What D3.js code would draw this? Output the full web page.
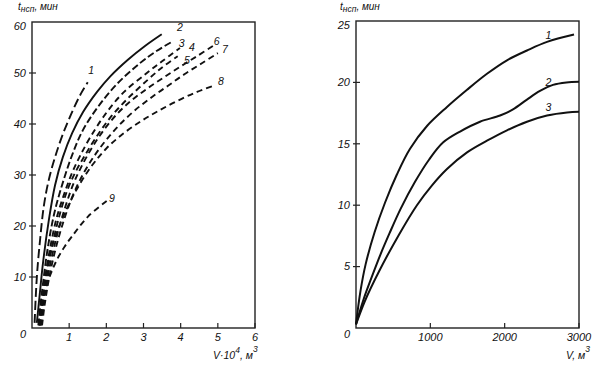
<!DOCTYPE html>
<html><head><meta charset="utf-8">
<script src="https://cdn.jsdelivr.net/npm/d3@7"></script>
<style>
html,body{margin:0;padding:0;background:#fff;}
text{font-family:"Liberation Sans",Arial,sans-serif;font-style:italic;fill:#111;}
</style></head>
<body><svg id="c" width="607" height="366"></svg>
<script>
// ---- Left panel data: V·10^4 m^3 vs t (min) ----
const leftXTicks = [1,2,3,4,5,6];
const leftYTicks = [0,10,20,30,40,50,60];
const curveL1 = [[0.07,1],[0.1,6],[0.14,11],[0.22,17.5],[0.32,24],[0.45,29],[0.62,33.5],[0.83,38],[1.10,42.7],[1.32,46],[1.50,48.2]];
const curveL2 = [[0.13,1],[0.2,6],[0.3,13],[0.45,21],[0.62,28],[0.83,33.5],[1.08,38.2],[1.37,42.3],[1.75,46.3],[2.10,49.3],[2.58,52.6],[3.04,55.3],[3.49,57.6]];
const curveL3 = [[0.17,0.5],[0.22,4],[0.3,9],[0.42,15.5],[0.6,22.5],[0.85,29],[1.10,34.3],[1.37,38.8],[1.77,43.3],[2.28,47.8],[2.90,51.9],[3.35,54.3],[3.76,56.1]];
const curveL4 = [[0.19,0.5],[0.25,4],[0.34,9],[0.47,15],[0.66,21.5],[0.9,27],[1.1,30.8],[1.29,33.7],[1.56,37.3],[1.96,41.8],[2.45,46.1],[3.09,50.0],[3.5,52.3],[3.98,54.9]];
const curveL5 = [[0.21,0.5],[0.27,4],[0.37,9],[0.5,14.5],[0.7,21],[0.95,27],[1.2,31],[1.42,33.8],[1.69,37],[2.10,41.2],[2.55,44.8],[3.09,48.5],[3.5,51.1],[3.92,53.3]];
const curveL6 = [[0.24,0.5],[0.3,4],[0.4,9],[0.55,14.5],[0.78,21],[1.1,28],[1.34,31.8],[1.61,35.3],[1.91,38.6],[2.28,41.9],[2.69,44.7],[3.09,46.9],[3.52,49.0],[3.98,51.2],[4.44,53.3],[4.87,55.3]];
const curveL7 = [[0.27,0.5],[0.33,4],[0.44,9],[0.6,14.5],[0.83,20.5],[1.1,26],[1.4,30.5],[1.7,34],[2.0,36.9],[2.35,39.8],[2.77,42.7],[3.23,45.3],[3.66,47.5],[4.11,49.8],[4.57,51.9],[5.0,53.9]];
const curveL8 = [[0.23,0.5],[0.27,4],[0.33,8.5],[0.42,12.5],[0.53,15.8],[0.68,19],[0.88,22.5],[1.1,25.8],[1.35,29],[1.65,32.2],[2.0,35.2],[2.4,37.8],[2.9,40.4],[3.36,42.4],[3.9,44.5],[4.44,46.3],[4.92,47.6]];
const curveL9 = [[0.21,0.5],[0.24,3.5],[0.30,5.8],[0.37,7.8],[0.46,9.8],[0.57,11.8],[0.7,13.8],[0.88,16],[1.08,18],[1.5,21.8],[2.04,25.1]];
const leftSeries = [curveL1,curveL2,curveL3,curveL4,curveL5,curveL6,curveL7,curveL8,curveL9];
const leftNames = ["1","2","3","4","5","6","7","8","9"];
const leftDash = ["9,4",null,"7,3","6,4","6,4","6,4","6,4","6,4","6,4"];
const leftLabelPos = [[1.59,50.5],[3.98,58.9],[4.03,55.8],[4.3,55.0],[4.17,52.5],[4.97,56.3],[5.19,54.7],[5.08,48.3],[2.15,25.5]];

// ---- Right panel data: V (m^3) vs t (min) ----
const rightXTicks = [1000,2000,3000];
const rightYTicks = [0,5,10,15,20,25];
const curveR1 = [[0,0.3],[60,3],[130,5.2],[250,7.8],[390,10.2],[550,12.5],[727,14.6],[955,16.45],[1224,18.0],[1494,19.4],[1762,20.7],[2031,21.8],[2300,22.6],[2570,23.3],[2933,23.9]];
const curveR2 = [[0,0.3],[100,2.3],[215,4.2],[330,6],[450,7.7],[600,9.7],[794,11.9],[982,13.7],[1170,15.1],[1400,16.0],[1668,16.8],[1938,17.3],[2112,17.8],[2300,18.6],[2475,19.3],[2650,19.8],[2830,20.0],[3000,20.05]];
const curveR3 = [[0,0.3],[120,2.2],[309,4.6],[578,7.6],[820,10.0],[1020,11.6],[1224,12.95],[1494,14.3],[1762,15.25],[2031,16.1],[2300,16.8],[2570,17.3],[2840,17.55],[3000,17.6]];
const rightSeries = [curveR1,curveR2,curveR3];
const rightNames = ["1","2","3"];
const rightLabelPos = [[2590,23.85],[2590,20.0],[2590,18.0]];

const svg = d3.select("#c");

function panel(opt){
  const x = d3.scaleLinear().domain(opt.xd).range(opt.xr);
  const y = d3.scaleLinear().domain(opt.yd).range(opt.yr);
  const g = svg.append("g");
  g.append("rect").attr("x",opt.xr[0]).attr("y",opt.yr[1])
    .attr("width",opt.xr[1]-opt.xr[0]).attr("height",opt.yr[0]-opt.yr[1])
    .attr("fill","none").attr("stroke","#222").attr("stroke-width",1.4);
  opt.yTicks.forEach(v=>{
    if(v>0 && v<opt.yd[1]) g.append("line").attr("x1",opt.xr[0]-3).attr("x2",opt.xr[0]+4)
      .attr("y1",y(v)).attr("y2",y(v)).attr("stroke","#222").attr("stroke-width",1.2);
    const off = v===opt.yd[1]?4:(v===0?6:0);
    g.append("text").attr("x",opt.xr[0]-6).attr("y",y(v)+off).attr("dy","0.35em")
      .attr("text-anchor","end").attr("font-size",11).text(v);
  });
  opt.xTicks.forEach(v=>{
    g.append("line").attr("x1",x(v)).attr("x2",x(v)).attr("y1",opt.yr[0]).attr("y2",opt.yr[0]-5)
      .attr("stroke","#222").attr("stroke-width",1.2);
    g.append("text").attr("x",x(v)).attr("y",opt.yr[0]+13).attr("text-anchor","middle")
      .attr("font-size",11).text(v);
  });
  const line = d3.line().x(d=>x(d[0])).y(d=>y(d[1])).curve(d3.curveCatmullRom.alpha(0.5));
  opt.series.forEach((s,i)=>{
    g.append("path").attr("d",line(s)).attr("fill","none").attr("stroke","#111")
      .attr("stroke-width",opt.sw).attr("stroke-dasharray",opt.dash?opt.dash[i]:null);
    g.append("text").attr("x",x(opt.labelPos[i][0])).attr("y",y(opt.labelPos[i][1]))
      .attr("dy","0.35em").attr("text-anchor","middle").attr("font-size",10.5).text(opt.names[i]);
  });
}

panel({xd:[0,6],xr:[32,255],yd:[0,60],yr:[328,22],xTicks:leftXTicks,yTicks:leftYTicks,
  series:leftSeries,names:leftNames,dash:leftDash,labelPos:leftLabelPos,sw:1.9});
panel({xd:[0,3000],xr:[356,579],yd:[0,25],yr:[328,21],xTicks:rightXTicks,yTicks:rightYTicks,
  series:rightSeries,names:rightNames,dash:null,labelPos:rightLabelPos,sw:2});

function yTitle(x0){
  const t = svg.append("text").attr("x",x0).attr("y",10).attr("font-size",10);
  t.append("tspan").text("t");
  t.append("tspan").attr("dy",2).attr("font-size",8.5).text("нсп");
  t.append("tspan").attr("dy",-2).text(", мин");
}
yTitle(18);
yTitle(340);

const xt = svg.append("text").attr("x",213).attr("y",359).attr("font-size",10.5);
xt.append("tspan").text("V·10");
xt.append("tspan").attr("dy",-6).attr("font-size",8.5).text("4");
xt.append("tspan").attr("dy",6).text(", м");
xt.append("tspan").attr("dy",-7).attr("font-size",8.5).text("3");

const xt2 = svg.append("text").attr("x",566).attr("y",359).attr("font-size",10.5);
xt2.append("tspan").text("V, м");
xt2.append("tspan").attr("dy",-7).attr("font-size",8.5).text("3");
</script></body></html>
